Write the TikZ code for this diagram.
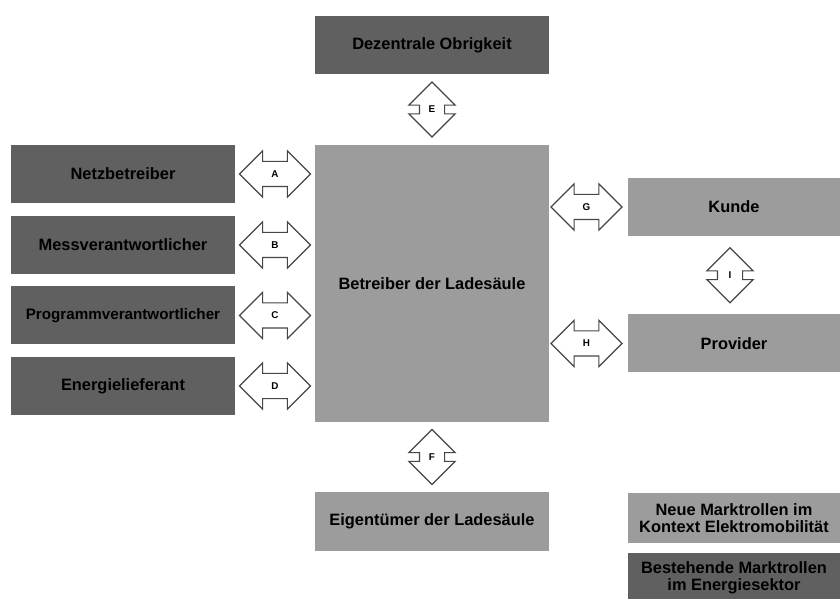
\documentclass[tikz,border=0pt]{standalone}
\usepackage{fontspec}
\setmainfont{Liberation Sans}
\usetikzlibrary{shapes.arrows, calc}

\definecolor{altrolle}{RGB}{96,96,96}
\definecolor{neurolle}{RGB}{156,156,156}
\definecolor{pfeilrand}{RGB}{70,70,70}

\tikzset{
	rolle/.style={fill=#1, inner sep=0pt, align=center, font=\bfseries\fontsize{12.3}{12.75}\selectfont},
	links/.style={rolle=altrolle, minimum width=168pt, minimum height=43.5pt},
	mitte/.style={rolle=neurolle, minimum width=175.5pt},
	rechts/.style={rolle=neurolle, minimum width=159pt, minimum height=43.5pt},
	schnitt/.style={double arrow, draw=pfeilrand, fill=white, line width=0.9pt, inner sep=0pt,
		double arrow head extend=7.9pt, text width=18pt, text height=11.6pt, text depth=6.4pt,
		align=center, font=\bfseries\fontsize{7.4}{8}\selectfont},
	quer/.style={schnitt, minimum height=53.25pt},
	hoch/.style={schnitt, minimum height=41.25pt, shape border rotate=90},
}

\begin{document}
\begin{tikzpicture}[x=0.75pt, y=-0.75pt]
	\useasboundingbox (0,0) rectangle (840,599);

	% bestehende Marktrollen
	\node [rolle=altrolle, minimum width=175.5pt, minimum height=43.5pt] (obrigkeit) at (432,45) {Dezentrale Obrigkeit};
	\node [links] (netz) at (123,174) {Netzbetreiber};
	\node [links] (mess) at (123,245) {Messverantwortlicher};
	\node [links, font=\bfseries\fontsize{11.4}{12}\selectfont] (programm) at (123,315.5) {Programmverantwortlicher};
	\node [links] (energie) at (123,386) {Energielieferant};

	% neue Marktrollen
	\node [mitte, minimum height=207.75pt] (betreiber) at (432,283.5) {Betreiber der Ladesäule};
	\node [mitte, minimum height=44.25pt] (eigentuemer) at (432,521.5) {Eigentümer der Ladesäule};
	\node [rechts] (kunde) at (734,207) {Kunde};
	\node [rechts] (provider) at (734,343.5) {Provider};

	% Schnittstellen
	\node [quer] (A) at ($(netz.east)!0.5!(betreiber.west |- netz)$) {A};
	\node [quer] (B) at ($(mess.east)!0.5!(betreiber.west |- mess)$) {B};
	\node [quer] (C) at ($(programm.east)!0.5!(betreiber.west |- programm)$) {C};
	\node [quer] (D) at ($(energie.east)!0.5!(betreiber.west |- energie)$) {D};
	\node [hoch] (E) at ($(obrigkeit.south)!0.5!(betreiber.north)$) {E};
	\node [hoch] (F) at ($(betreiber.south)!0.5!(eigentuemer.north)$) {F};
	\node [quer, xshift=-1.5pt] (G) at ($(betreiber.east |- kunde)!0.5!(kunde.west)$) {G};
	\node [quer, xshift=-1.5pt] (H) at ($(betreiber.east |- provider)!0.5!(provider.west)$) {H};
	\node [hoch, xshift=-3pt] (I) at ($(kunde.south)!0.5!(provider.north)$) {I};

	% Legende
	\node [rechts, minimum height=37.5pt] (neu) at (734,518) {Neue Marktrollen im\\Kontext Elektromobilität};
	\node [rolle=altrolle, minimum width=159pt, minimum height=37.5pt] (alt) at (734,578) {Bestehende Marktrollen\\im Energiesektor};
\end{tikzpicture}
\end{document}
